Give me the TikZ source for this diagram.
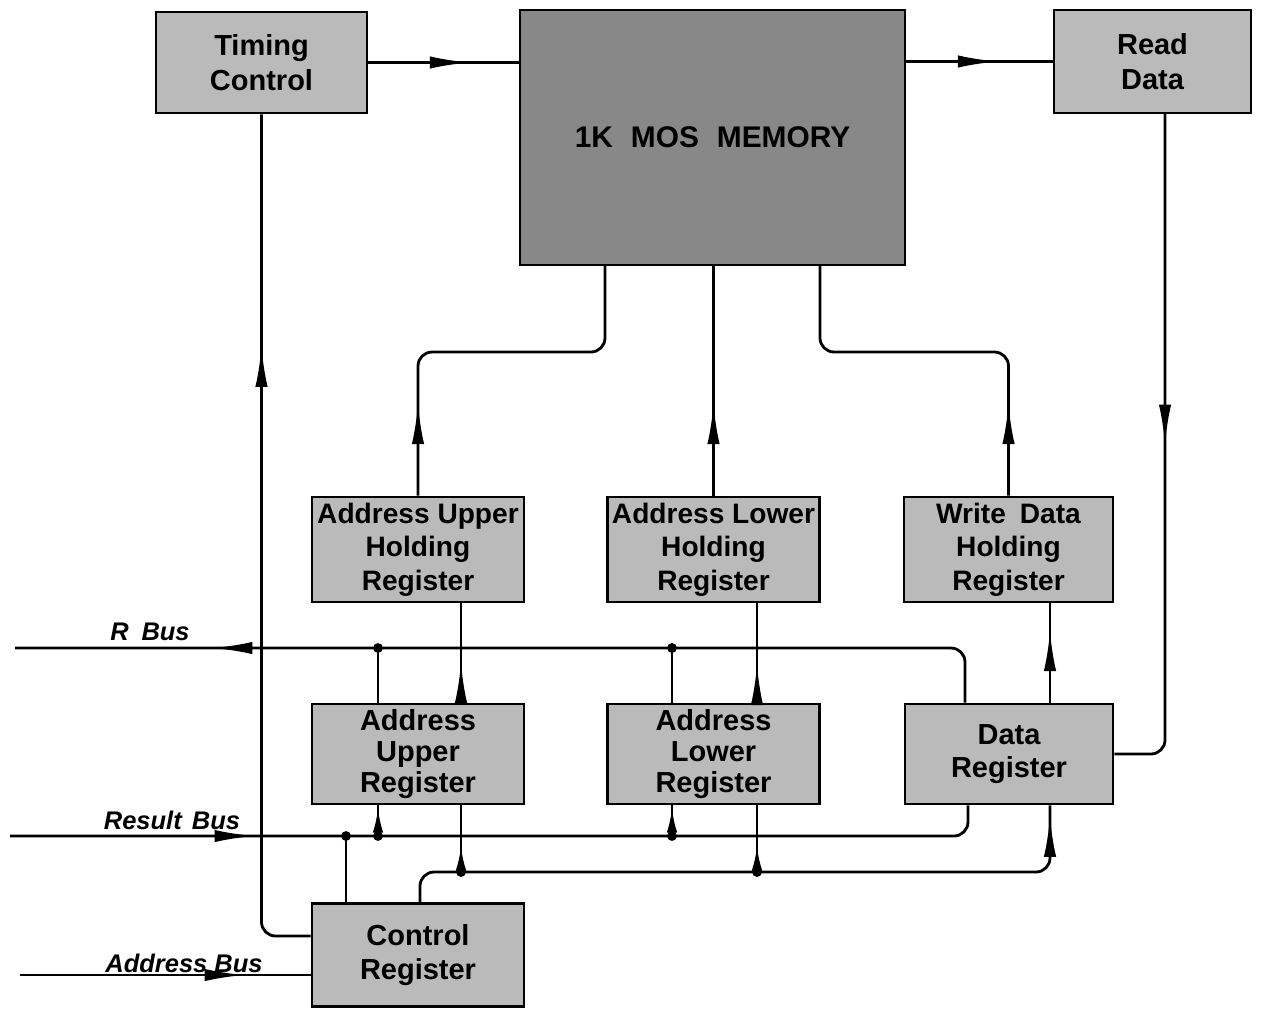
\documentclass[tikz,border=0pt]{standalone}
\usepackage{fontspec}
\setmainfont{Liberation Sans}
\usetikzlibrary{arrows.meta, positioning, calc, decorations.markings}
\definecolor{boxgray}{RGB}{186,186,186}
\definecolor{memgray}{RGB}{136,136,136}

\begin{document}
\begin{tikzpicture}[
    x=0.02cm, y=-0.02cm,
    reg/.style={rectangle, draw=black, line width=1.6pt, fill=boxgray, minimum width=4.24cm, minimum height=2.1cm, font=\fontsize{16}{19}\selectfont\bfseries, align=center, inner sep=0pt},
    tightreg/.style={reg, minimum height=2cm, font=\fontsize{16.5}{17.5}\selectfont\bfseries},
    memblk/.style={rectangle, draw=black, line width=1.6pt, fill=memgray, minimum width=7.7cm, minimum height=5.1cm, font=\fontsize{17}{20}\selectfont\bfseries},
    buslbl/.style={font=\fontsize{14.5}{17}\selectfont\bfseries\itshape, inner sep=0pt},
    wire/.style={line width=1.6pt, black},
    flow/.style={postaction={decorate}, decoration={markings, mark=at position #1 with {\arrow{Latex[length=23pt, width=7pt]}}}},
    shortflow/.style={postaction={decorate}, decoration={markings, mark=at position #1 with {\arrow{Latex[length=14pt, width=6pt]}}}}
]
\useasboundingbox (0,0) rectangle (1267,1009);

% ── Top row ──
\node[reg, minimum width=4.22cm, minimum height=2.02cm, font=\fontsize{16.5}{19.5}\selectfont\bfseries] (tc) at (261.5,62.5) {Timing\\Control};
\node[memblk] (mem) at (712.5,137.5) {1K\hspace{0.6em}MOS\hspace{0.6em}MEMORY};
\node[reg, minimum width=3.94cm, minimum height=2.06cm, font=\fontsize{16.5}{19.5}\selectfont\bfseries] (rd) at (1152.5,61.5) {Read\\Data};

% ── Holding registers ──
\node[reg] (auh) at (418,549.5) {Address Upper\\Holding\\Register};
\node[reg] (alh) at (713.5,549.5) {Address Lower\\Holding\\Register};
\node[reg, minimum width=4.18cm] (wdh) at (1008.5,549.5) {Write\hspace{0.5em}Data\\Holding\\Register};

% ── Registers ──
\node[tightreg] (aur) at (418,754) {Address\\Upper\\Register};
\node[tightreg] (alr) at (713.5,754) {Address\\Lower\\Register};
\node[reg, minimum width=4.16cm, minimum height=2cm, font=\fontsize{16.5}{19}\selectfont\bfseries] (dr) at (1009,754) {Data\\Register};
\node[reg, minimum height=2.06cm, font=\fontsize{16.5}{19}\selectfont\bfseries] (cr) at (418,955) {Control\\Register};

% ── Tap points ──
\coordinate (m1) at (605,265);
\coordinate (m3) at (820,265);
\coordinate (rdout) at (1165,113);
\coordinate (rbus) at (15,648);
\coordinate (resbus) at (10,836);
\coordinate (adbus) at (20,975);
\coordinate (ru1) at (378,648);
\coordinate (ru2) at (672,648);
\coordinate (rs0) at (346,836);
\coordinate (rs1) at (378,836);
\coordinate (rs2) at (672,836);
\coordinate (cb1) at (461,872);
\coordinate (cb2) at (757,872);
\coordinate (rtap) at (965,648);
\coordinate (stap) at (968,836);
\coordinate (dtap) at (1050,872);

% ── Memory connections ──
\draw[wire, flow=2.04cm] (tc.east) -- (mem.west |- tc.east);
\draw[wire, flow=1.84cm] (mem.east |- rd.west) -- (rd.west);
\draw[wire, rounded corners=8pt, flow=6.64cm] (rdout) |- (dr.east);
\draw[wire, rounded corners=8pt, flow=1.84cm] (auh.north) |- ($(m1)+(0,87)$) -- (m1);
\draw[wire, flow=1.84cm] (alh.north) -- (alh.north |- mem.south);
\draw[wire, rounded corners=8pt, flow=1.84cm] (wdh.north) |- ($(m3)+(0,87)$) -- (m3);

% ── Registers to holding registers ──
\draw[wire, flow=0.8cm] (aur.north -| cb1) -- (auh.south -| cb1);
\draw[wire, flow=0.76cm] (alr.north -| cb2) -- (alh.south -| cb2);
\draw[wire, flow=1.44cm] (dr.north -| dtap) -- (wdh.south -| dtap);

% ── R Bus ──
\draw[wire, rounded corners=8pt, flow=-3.94cm] (dr.north -| rtap) |- (rbus);
\draw[wire] (aur.north -| ru1) -- (ru1);
\draw[wire] (alr.north -| ru2) -- (ru2);

% ── Result Bus ──
\draw[wire, rounded corners=8pt, flow=4.9cm] (resbus) -| (dr.south -| stap);
\draw[wire, shortflow=0.56cm] (rs1) -- (aur.south -| rs1);
\draw[wire, shortflow=0.56cm] (rs2) -- (alr.south -| rs2);
\draw[wire] (cr.north -| rs0) -- (rs0);

% ── Control lines ──
\draw[wire, rounded corners=8pt, flow=-0.22cm] ($(cr.north)+(2,0)$) |- (cb1) -| (dr.south -| dtap);
\draw[wire, shortflow=0.52cm] (cb1) -- (aur.south -| cb1);
\draw[wire, shortflow=0.52cm] (cb2) -- (alr.south -| cb2);
\draw[wire, rounded corners=8pt, flow=-4.64cm] ($(cr.west)+(0,-19)$) -| (tc.south);

% ── Address Bus ──
\draw[wire, flow=4.5cm] (adbus) -- (cr.west |- adbus);

% Junction dots
\foreach \p in {ru1,ru2,rs0,rs1,rs2,cb1,cb2}
    \fill (\p) circle (2.8pt);

% Bus labels
\node[buslbl] (rlbl) at (150,632) {R\hspace{0.5em}Bus};
\node[buslbl] (reslbl) at (172,820) {Result\hspace{0.4em}Bus};
\node[buslbl] (adlbl) at (184,963) {Address Bus};

\end{tikzpicture}
\end{document}
